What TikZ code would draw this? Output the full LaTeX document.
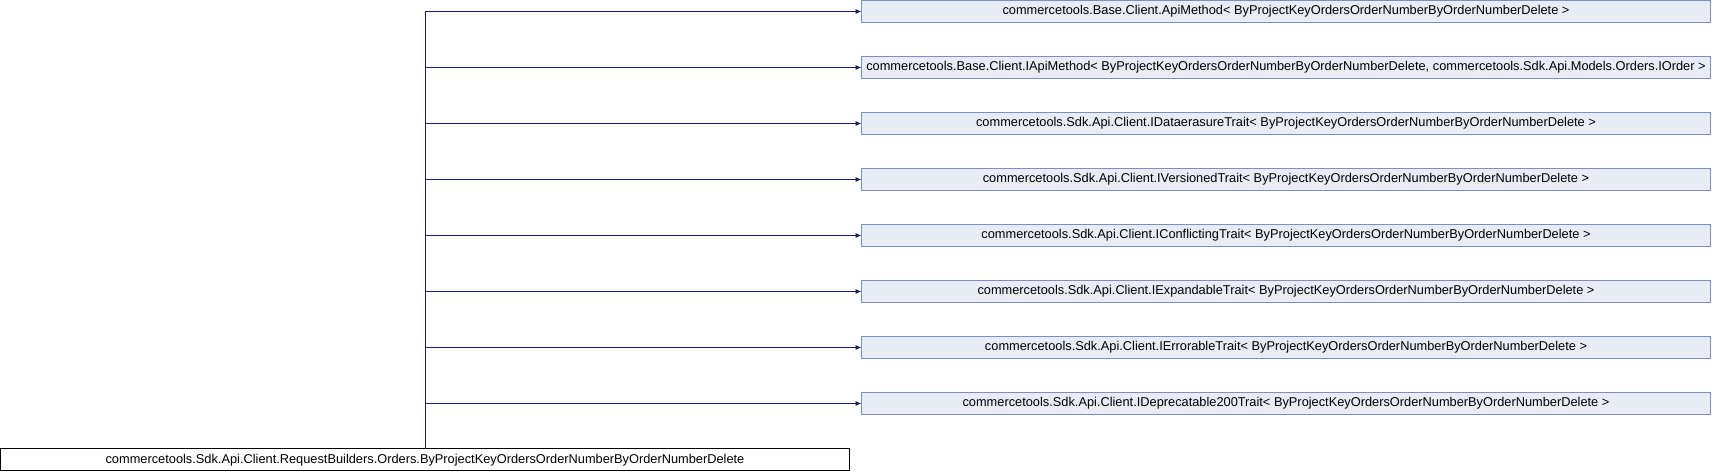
\documentclass[tikz,border=0pt]{standalone}
\usepackage{fontspec}
\setmainfont{Liberation Sans}
\usepackage{xcolor}
\usepackage{tikz}
\usetikzlibrary{arrows.meta,positioning}

\definecolor{edgeblue}{HTML}{191970}
\definecolor{boxfill}{HTML}{E8ECF4}
\definecolor{boxline}{HTML}{7B8FC6}

\begin{document}
\begin{tikzpicture}[
    x=1pt, y=1pt,
    node distance=34pt,
    base/.style={draw=black, fill=white, line width=1pt, outer sep=0pt, inner sep=0pt,
                minimum width=849pt, minimum height=22pt, align=center,
                font=\fontsize{12.8}{14}\selectfont},
    derived/.style={draw=boxline, fill=boxfill, line width=1pt, outer sep=0pt, inner sep=0pt,
                minimum width=849pt, minimum height=22pt, align=center,
                font=\fontsize{12.8}{14}\selectfont},
    edge/.style={-{Latex[length=6pt,width=5pt]}, draw=edgeblue, line width=1pt}
]
\useasboundingbox (0,0) rectangle (1712,472);

% --- Class itself (bottom left) ---
\node[base] (delete) at (425,12.3)
    {commercetools.Sdk.Api.Client.RequestBuilders.Orders.ByProjectKeyOrdersOrderNumberByOrderNumberDelete};

% --- Base classes and interfaces (right column) ---
\node[derived] (apimethod) at (1286,460.5)
    {commercetools.Base.Client.ApiMethod< ByProjectKeyOrdersOrderNumberByOrderNumberDelete >};
\node[derived, below=of apimethod] (iapimethod)
    {commercetools.Base.Client.IApiMethod< ByProjectKeyOrdersOrderNumberByOrderNumberDelete, commercetools.Sdk.Api.Models.Orders.IOrder >};
\node[derived, below=of iapimethod] (dataerasure)
    {commercetools.Sdk.Api.Client.IDataerasureTrait< ByProjectKeyOrdersOrderNumberByOrderNumberDelete >};
\node[derived, below=of dataerasure] (versioned)
    {commercetools.Sdk.Api.Client.IVersionedTrait< ByProjectKeyOrdersOrderNumberByOrderNumberDelete >};
\node[derived, below=of versioned] (conflicting)
    {commercetools.Sdk.Api.Client.IConflictingTrait< ByProjectKeyOrdersOrderNumberByOrderNumberDelete >};
\node[derived, below=of conflicting] (expandable)
    {commercetools.Sdk.Api.Client.IExpandableTrait< ByProjectKeyOrdersOrderNumberByOrderNumberDelete >};
\node[derived, below=of expandable] (errorable)
    {commercetools.Sdk.Api.Client.IErrorableTrait< ByProjectKeyOrdersOrderNumberByOrderNumberDelete >};
\node[derived, below=of errorable] (deprecatable)
    {commercetools.Sdk.Api.Client.IDeprecatable200Trait< ByProjectKeyOrdersOrderNumberByOrderNumberDelete >};

% --- Inheritance edges ---
\draw[edge] (delete.north) |- (apimethod.west);
\draw[edge] (delete.north) |- (iapimethod.west);
\draw[edge] (delete.north) |- (dataerasure.west);
\draw[edge] (delete.north) |- (versioned.west);
\draw[edge] (delete.north) |- (conflicting.west);
\draw[edge] (delete.north) |- (expandable.west);
\draw[edge] (delete.north) |- (errorable.west);
\draw[edge] (delete.north) |- (deprecatable.west);

\end{tikzpicture}
\end{document}
